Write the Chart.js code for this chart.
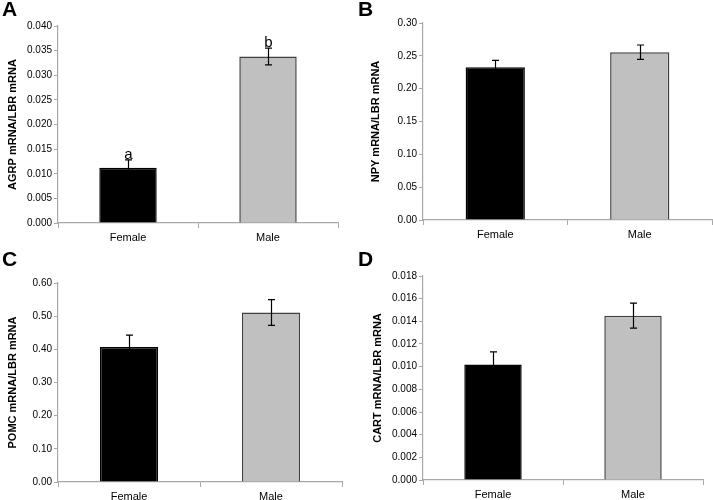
<!DOCTYPE html>
<html>
<head>
<meta charset="utf-8">
<script src="https://cdn.jsdelivr.net/npm/chart.js@4.4.0/dist/chart.umd.min.js"></script>
<style>
  body { margin: 0; background: #fff; }
  #wrap { position: relative; width: 713px; height: 500px; overflow: hidden; }
  .panel { position: absolute; }
  .letter { position: absolute; font: bold 21px "Liberation Sans", Arial, sans-serif; color: #000; }
</style>
</head>
<body>
<div id="wrap">
  <div class="panel" style="left:0;top:0;width:356px;height:250px"><canvas id="cA"></canvas></div>
  <div class="panel" style="left:356px;top:0;width:357px;height:250px"><canvas id="cB"></canvas></div>
  <div class="panel" style="left:0;top:250px;width:356px;height:250px"><canvas id="cC"></canvas></div>
  <div class="panel" style="left:356px;top:250px;width:357px;height:250px"><canvas id="cD"></canvas></div>
  <div class="letter" style="left:2px;top:-3px">A</div>
  <div class="letter" style="left:358px;top:-3px">B</div>
  <div class="letter" style="left:2px;top:247px">C</div>
  <div class="letter" style="left:358px;top:247px">D</div>
</div>
<script>
// data
const categories = ['Female', 'Male'];

const agrpMean = [0.0112, 0.0338];
const agrpErr = [0.0016, 0.0017];
const agrpLetters = ['a', 'b'];

const npyMean = [0.2325, 0.2555];
const npyErr = [0.0105, 0.011];

const pomcMean = [0.407, 0.511];
const pomcErr = [0.036, 0.039];

const cartMean = [0.0102, 0.0145];
const cartErr = [0.0011, 0.0011];

const barColors = ['#000000', '#c0c0c0'];
const axisGray = '#a8a8a8';
const font = '"Liberation Sans", Arial, sans-serif';

// error bars + significance letters
const errorBars = {
  id: 'errorBars',
  afterDatasetsDraw(chart, args, opts) {
    const ctx = chart.ctx;
    const y = chart.scales.y;
    const meta = chart.getDatasetMeta(0);
    ctx.save();
    ctx.strokeStyle = '#000';
    ctx.lineWidth = 1.2;
    meta.data.forEach((bar, i) => {
      const v = opts.mean[i], e = opts.err[i];
      const yTop = y.getPixelForValue(v + e);
      const yBot = y.getPixelForValue(v - e);
      const x = Math.round(bar.x) + 0.5;
      ctx.beginPath();
      ctx.moveTo(x, yTop); ctx.lineTo(x, yBot);
      ctx.moveTo(x - 3.5, yTop); ctx.lineTo(x + 3.5, yTop);
      ctx.moveTo(x - 3.5, yBot); ctx.lineTo(x + 3.5, yBot);
      ctx.stroke();
      if (opts.letters) {
        ctx.fillStyle = '#000';
        ctx.font = '15px ' + font;
        ctx.textAlign = 'center';
        ctx.textBaseline = 'bottom';
        ctx.fillText(opts.letters[i], x, yTop + 2);
      }
    });
    ctx.restore();
  }
};

function makePanel(id, mean, err, letters, title, max, step, decimals, box) {
  new Chart(document.getElementById(id), {
    type: 'bar',
    data: {
      labels: categories,
      datasets: [{
        data: mean,
        backgroundColor: barColors,
        borderColor: ['#000000', '#404040'],
        borderWidth: 1.5,
        barPercentage: 0.41,
        categoryPercentage: 1
      }]
    },
    options: {
      responsive: true,
      maintainAspectRatio: false,
      animation: false,
      layout: { autoPadding: false, padding: { left: 0, top: box.top, right: box.right, bottom: 0 } },
      plugins: {
        legend: { display: false },
        tooltip: { enabled: false },
        errorBars: { mean: mean, err: err, letters: letters }
      },
      scales: {
        x: {
          grid: { drawOnChartArea: false, drawTicks: true, tickLength: 5, color: axisGray, offset: true },
          border: { color: axisGray, width: 1.2 },
          ticks: { color: '#000', font: { family: font, size: 11 }, padding: 3 },
          afterFit(s) { s.height = box.bottom; }
        },
        y: {
          min: 0, max: max,
          grid: { drawOnChartArea: false, drawTicks: true, tickLength: 4, color: axisGray },
          border: { color: axisGray, width: 1.2 },
          ticks: {
            stepSize: step,
            color: '#000',
            font: { family: font, size: 10 },
            padding: 2,
            callback: v => Number(v).toFixed(decimals)
          },
          title: {
            display: true,
            text: title,
            color: '#000',
            font: { family: font, size: 11, weight: 'bold' },
            padding: { top: box.titlePad, bottom: 0 }
          },
          afterFit(s) { s.width = box.left; }
        }
      }
    },
    plugins: [errorBars]
  });
}

makePanel('cA', agrpMean, agrpErr, agrpLetters, 'AGRP mRNA/LBR mRNA', 0.04, 0.005, 3,
  { left: 58, top: 26, right: 18, bottom: 27, titlePad: 6 });
makePanel('cB', npyMean, npyErr, null, 'NPY mRNA/LBR mRNA', 0.30, 0.05, 2,
  { left: 67, top: 23, right: 1, bottom: 30, titlePad: 13 });
makePanel('cC', pomcMean, pomcErr, null, 'POMC mRNA/LBR mRNA', 0.60, 0.1, 2,
  { left: 58, top: 33, right: 14, bottom: 18, titlePad: 6 });
makePanel('cD', cartMean, cartErr, null, 'CART mRNA/LBR mRNA', 0.018, 0.002, 3,
  { left: 67, top: 26, right: 10, bottom: 20, titlePad: 15 });
</script>
</body>
</html>
